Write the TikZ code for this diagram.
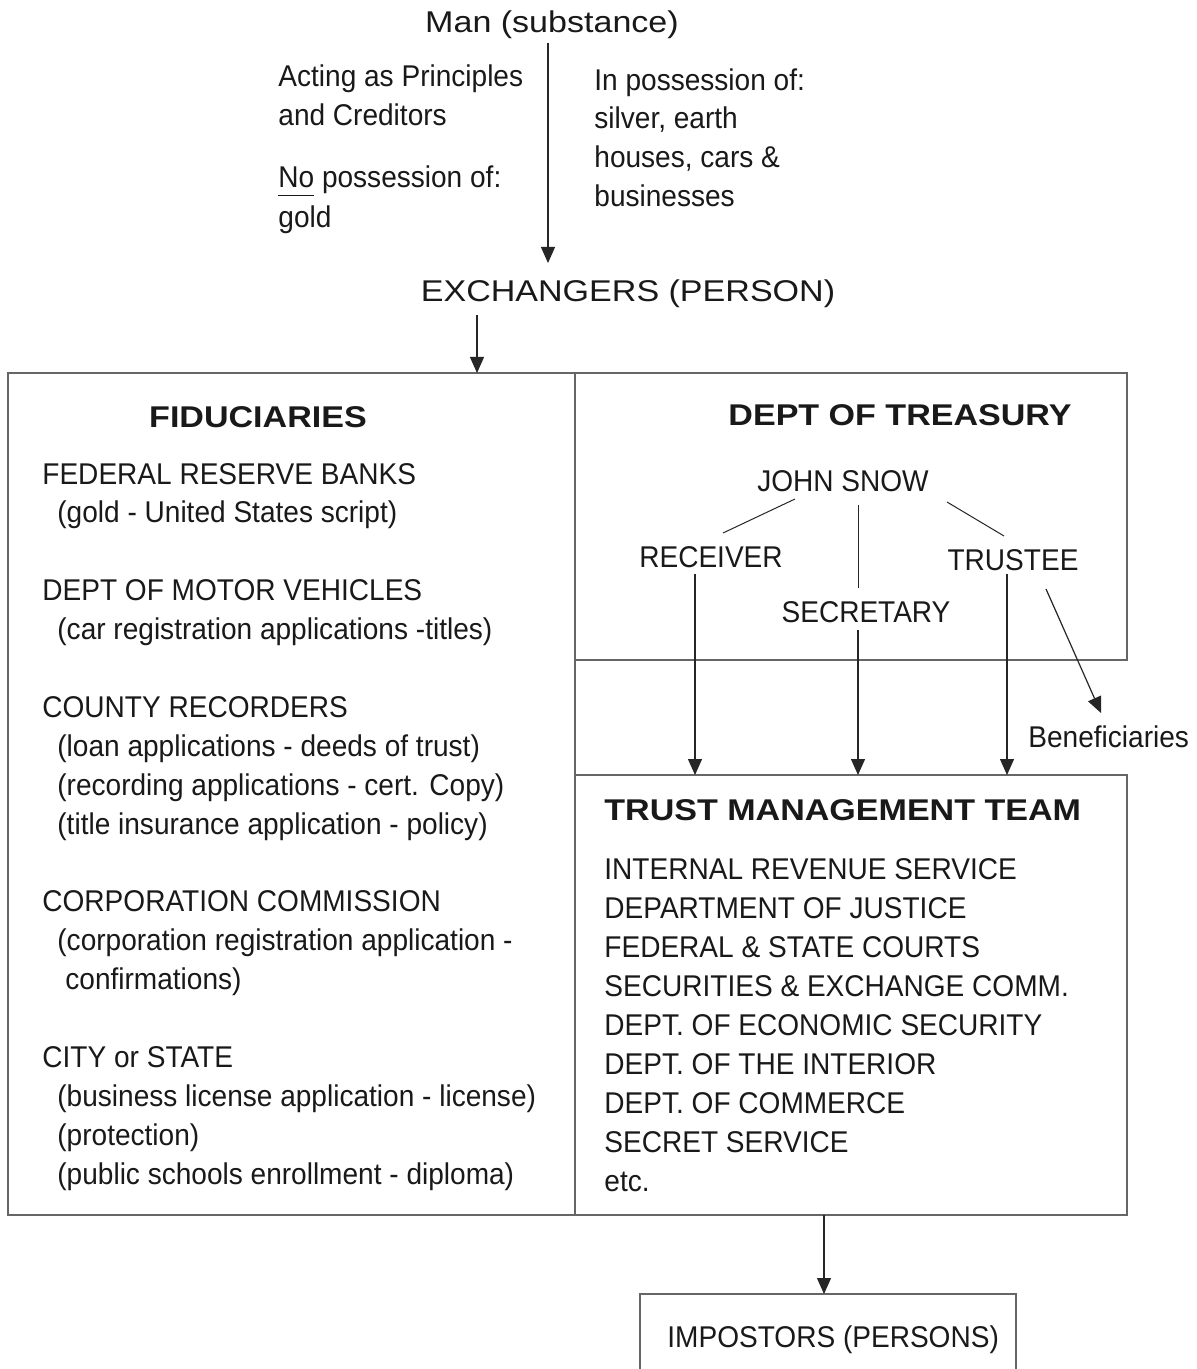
\documentclass[tikz,border=0pt]{standalone}
\usepackage{fontspec}
\usetikzlibrary{arrows.meta,fit}
\newfontfamily\narrowf[FakeStretch=0.935]{Liberation Sans}
\newfontfamily\widef[FakeStretch=1.135]{Liberation Sans}
\newcommand\ulinetxt[1]{\setbox0\hbox{#1}\rlap{\raisebox{-4pt}{\rule{\wd0}{0.6pt}}}#1}
\tikzset{
  boxst/.style={draw=black!60, line width=0.6pt, inner sep=0pt, outer sep=0pt},
  arr/.style={draw=black!85, line width=0.6pt, -{Triangle[length=8pt,width=7pt]}},
  ln/.style={draw=black!85, line width=0.5pt},
  wtxt/.style={font=\widef\fontsize{15}{19.5}\selectfont, inner sep=0pt, text=black!90},
  btxt/.style={font=\widef\bfseries\fontsize{15}{19.5}\selectfont, inner sep=0pt, text=black!90},
  ntxt/.style={font=\narrowf\fontsize{15}{19.5}\selectfont, inner sep=0pt, anchor=base west, text=black!90},
}
\begin{document}
\begin{tikzpicture}[x=0.5pt,y=-0.5pt]
\useasboundingbox[fill=white] (0,0) rectangle (1196,1369);

% boxes
\node[boxst, fit={(8,373)(575,1215)}] (fid) {};
\node[boxst, fit={(575,373)(1127,660)}] (tre) {};
\node[boxst, fit={(575,775)(1127,1215)}] (tmt) {};
\node[boxst, fit={(640,1294)(1016,1400)}] (impbox) {};

% top texts
\node[wtxt, anchor=base] (man) at (552,33) {Man (substance)};
\node[ntxt] (act1) at (278,87) {Acting as Principles};
\node[ntxt] (act2) at (278,126) {and Creditors};
\node[ntxt] (nopos) at (278,188) {\ulinetxt{No} possession of:};
\node[ntxt] (gold) at (278,228) {gold};
\node[ntxt] (pos1) at (594,91) {In possession of:};
\node[ntxt] (pos2) at (594,129) {silver, earth};
\node[ntxt] (pos3) at (594,168) {houses, cars \&};
\node[ntxt] (pos4) at (594,207) {businesses};
\node[wtxt, anchor=base] (exch) at (628,302) {EXCHANGERS (PERSON)};

% fiduciaries
\node[btxt, anchor=base] (fidt) at (258,427) {FIDUCIARIES};
\foreach \k/\xx/\t [count=\i] in {
  0/42/{FEDERAL RESERVE BANKS},
  1/57/{(gold - United States script)},
  3/42/{DEPT OF MOTOR VEHICLES},
  4/57/{(car registration applications -titles)},
  6/42/{COUNTY RECORDERS},
  7/57/{(loan applications - deeds of trust)},
  8/57/{(recording applications - cert. Copy)},
  9/57/{(title insurance application - policy)},
  11/42/{CORPORATION COMMISSION},
  12/57/{(corporation registration application -},
  13/65/{confirmations)},
  15/42/{CITY or STATE},
  16/57/{(business license application - license)},
  17/57/{(protection)},
  18/57/{(public schools enrollment - diploma)}}
  \node[ntxt] (fl\i) at (\xx,{484+38.9*\k}) {\t};

% treasury
\node[btxt, anchor=base] (trt) at (900,425) {DEPT OF TREASURY};
\node[ntxt, anchor=base] (snow) at (843,491) {JOHN SNOW};
\node[ntxt, anchor=base] (recv) at (711,567) {RECEIVER};
\node[ntxt, anchor=base] (trus) at (1013,570) {TRUSTEE};
\node[ntxt, anchor=base] (secr) at (866,622) {SECRETARY};
\node[ntxt] (bene) at (1028,747) {Beneficiaries};

% trust management team
\node[btxt, anchor=base west] (tmtt) at (604,820) {TRUST MANAGEMENT TEAM};
\foreach \t [count=\i from 0] in {
  INTERNAL REVENUE SERVICE,
  DEPARTMENT OF JUSTICE,
  FEDERAL \& STATE COURTS,
  SECURITIES \& EXCHANGE COMM.,
  DEPT. OF ECONOMIC SECURITY,
  DEPT. OF THE INTERIOR,
  DEPT. OF COMMERCE,
  SECRET SERVICE,
  etc.}
  \node[ntxt] (tl\i) at (604,{879+39*\i}) {\t};

\node[ntxt] (imp) at (667,1347) {IMPOSTORS (PERSONS)};

% connector end points
\coordinate (c1) at (548,43);
\coordinate (c1e) at (548,263);
\coordinate (c2) at (477,315);
\coordinate (s1a) at (795,499);
\coordinate (s1b) at (723,533);
\coordinate (s2a) at (858,505);
\coordinate (s2b) at (858,588);
\coordinate (s3a) at (947,502);
\coordinate (s3b) at (1004,536);
\coordinate (r1) at (695,574);
\coordinate (r2) at (858,630);
\coordinate (r3) at (1007,574);
\coordinate (b1) at (1046,589);
\coordinate (b2) at (1101,713);
\coordinate (c3) at (824,1215);

% connectors
\draw[arr] (c1) -- (c1e);
\draw[arr] (c2) -- (c2 |- fid.north);
\draw[ln] (s1a) -- (s1b);
\draw[ln] (s2a) -- (s2b);
\draw[ln] (s3a) -- (s3b);
\draw[arr] (r1) -- (r1 |- tmt.north);
\draw[arr] (r2) -- (r2 |- tmt.north);
\draw[arr] (r3) -- (r3 |- tmt.north);
\draw[arr] (b1) -- (b2);
\draw[arr] (c3) -- (c3 |- impbox.north);
\end{tikzpicture}
\end{document}
